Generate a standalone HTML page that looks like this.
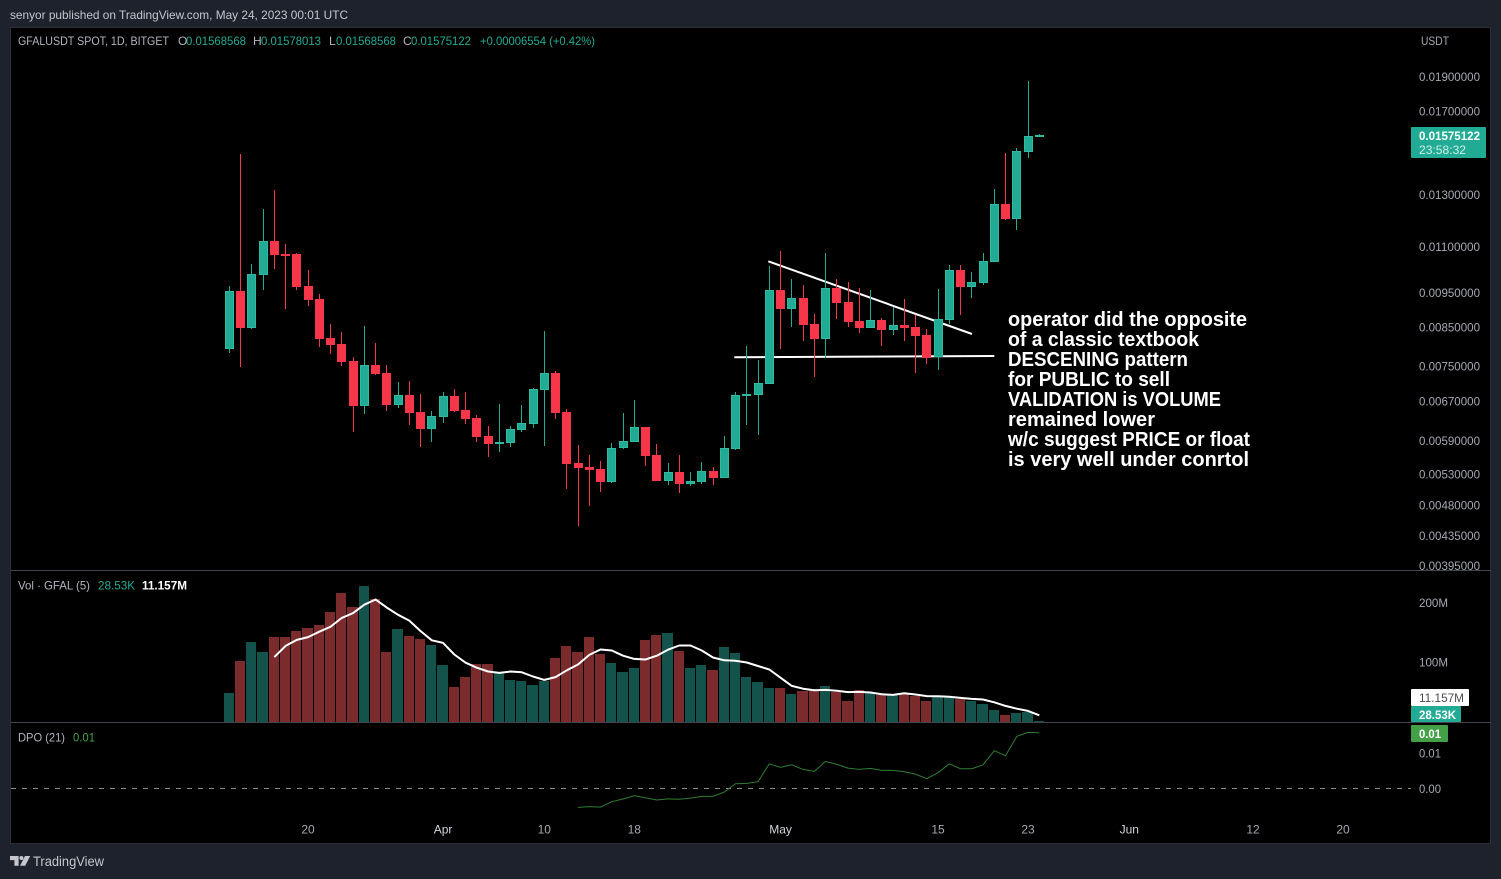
<!DOCTYPE html>
<html lang="en">
<head>
<meta charset="utf-8">
<title>GFALUSDT chart</title>
<style>
html,body{margin:0;padding:0;background:#1e222d;width:1501px;height:879px;overflow:hidden}
svg{display:block;font-family:"Liberation Sans",sans-serif}
</style>
</head>
<body>
<svg id="chart" width="1501" height="879" viewBox="0 0 1501 879" xmlns="http://www.w3.org/2000/svg">
  <defs><clipPath id="price-clip"><rect x="11" y="28" width="1480" height="542"/></clipPath></defs>
  <rect x="0" y="0" width="1501" height="879" fill="#1e222d"/>
  <text x="10" y="19" font-size="12" fill="#c4c6cc" textLength="338" lengthAdjust="spacingAndGlyphs">senyor published on TradingView.com, May 24, 2023 00:01 UTC</text>
  <rect x="10.5" y="27.5" width="1480" height="816" fill="#000" stroke="#2a2e39"/>
  <line x1="11" x2="1491" y1="570.5" y2="570.5" stroke="#41444e"/>
  <line x1="11" x2="1491" y1="722.5" y2="722.5" stroke="#41444e"/>
  <line x1="11" x2="1411" y1="788.5" y2="788.5" stroke="#8a8d96" stroke-dasharray="5 6"/>

  <g font-size="12">
    <text x="18" y="45" fill="#b2b5be" textLength="151" lengthAdjust="spacingAndGlyphs">GFALUSDT SPOT, 1D, BITGET</text>
    <text x="178" y="45" fill="#b2b5be">O</text>
    <text x="186" y="45" fill="#22ab94" textLength="60" lengthAdjust="spacingAndGlyphs">0.01568568</text>
    <text x="253" y="45" fill="#b2b5be">H</text>
    <text x="261" y="45" fill="#22ab94" textLength="60" lengthAdjust="spacingAndGlyphs">0.01578013</text>
    <text x="329" y="45" fill="#b2b5be">L</text>
    <text x="336" y="45" fill="#22ab94" textLength="60" lengthAdjust="spacingAndGlyphs">0.01568568</text>
    <text x="403" y="45" fill="#b2b5be">C</text>
    <text x="411" y="45" fill="#22ab94" textLength="60" lengthAdjust="spacingAndGlyphs">0.01575122</text>
    <text x="480" y="45" fill="#22ab94" textLength="115" lengthAdjust="spacingAndGlyphs">+0.00006554 (+0.42%)</text>
  </g>
  <text x="1421" y="45" font-size="12" fill="#a5a8b1" textLength="28" lengthAdjust="spacingAndGlyphs">USDT</text>

  <g id="trendlines" stroke="#fff" stroke-width="2" fill="none">
    <line x1="768.3" y1="261.3" x2="972" y2="334"/>
    <line x1="734.3" y1="357.3" x2="994.3" y2="356"/>
  </g>
  <g id="candles"></g>
  <g id="price-axis" clip-path="url(#price-clip)"></g>

  <g font-size="20" font-weight="bold" fill="#fff">
    <text x="1008" y="326" textLength="239" lengthAdjust="spacingAndGlyphs">operator did the opposite</text>
    <text x="1008" y="346" textLength="191" lengthAdjust="spacingAndGlyphs">of a classic textbook</text>
    <text x="1008" y="366" textLength="180" lengthAdjust="spacingAndGlyphs">DESCENING pattern</text>
    <text x="1008" y="386" textLength="162" lengthAdjust="spacingAndGlyphs">for PUBLIC to sell</text>
    <text x="1008" y="406" textLength="213" lengthAdjust="spacingAndGlyphs">VALIDATION is VOLUME</text>
    <text x="1008" y="426" textLength="147" lengthAdjust="spacingAndGlyphs">remained lower</text>
    <text x="1008" y="446" textLength="242" lengthAdjust="spacingAndGlyphs">w/c suggest PRICE or float</text>
    <text x="1008" y="466" textLength="241" lengthAdjust="spacingAndGlyphs">is very well under conrtol</text>
  </g>

  <g>
    <rect x="1411" y="127" width="75" height="31" rx="1" fill="#22ab94"/>
    <text x="1419" y="140" font-size="12" font-weight="bold" fill="#fff" textLength="61" lengthAdjust="spacingAndGlyphs">0.01575122</text>
    <text x="1419" y="154" font-size="12" fill="#cdeee8" textLength="47" lengthAdjust="spacingAndGlyphs">23:58:32</text>
  </g>

  <text x="18" y="589.5" font-size="12" fill="#b2b5be" textLength="72" lengthAdjust="spacingAndGlyphs">Vol · GFAL (5)</text>
  <text x="98" y="589.5" font-size="12" fill="#22ab94" textLength="37" lengthAdjust="spacingAndGlyphs">28.53K</text>
  <text x="142" y="589.5" font-size="12" font-weight="bold" fill="#fff" textLength="45" lengthAdjust="spacingAndGlyphs">11.157M</text>
  <g id="volume-pane"></g>
  <g id="volume-axis"></g>
  <rect x="1411" y="689" width="58" height="17" rx="1" fill="#fff"/>
  <text x="1419" y="702" font-size="12" fill="#4a4c52" textLength="45" lengthAdjust="spacingAndGlyphs">11.157M</text>
  <rect x="1411" y="706" width="50" height="16" rx="1" fill="#22ab94"/>
  <text x="1419" y="719" font-size="12" font-weight="bold" fill="#fff" textLength="37" lengthAdjust="spacingAndGlyphs">28.53K</text>

  <text x="18" y="741.5" font-size="12" fill="#b2b5be" textLength="47" lengthAdjust="spacingAndGlyphs">DPO (21)</text>
  <text x="73" y="741.5" font-size="12" fill="#43a047" textLength="22" lengthAdjust="spacingAndGlyphs">0.01</text>
  <g id="dpo-pane"></g>
  <g id="dpo-axis"></g>
  <rect x="1411" y="725" width="37" height="17" rx="1" fill="#43a047"/>
  <text x="1419" y="738" font-size="12" font-weight="bold" fill="#fff" textLength="22" lengthAdjust="spacingAndGlyphs">0.01</text>

  <g id="time-axis"></g>

  <g>
    <path fill="#c5c7cd" d="M10 856h8.6v9.7h-4.2v-5.6H10zM25 856h5.2l-5 9.7h-5.2z"/>
    <circle cx="21.4" cy="858" r="2" fill="#c5c7cd"/>
    <text x="33" y="866" font-size="13.5" fill="#c5c7cd" textLength="71" lengthAdjust="spacingAndGlyphs">TradingView</text>
  </g>
</svg>
<script>
const startDate = '2023-03-13';
const opens = [.007926,.009531,.008479,.010053,.011191,.010744,.010734,.009685,.009288,.008196,.00804,.007612,.0066,.007515,.007324,.006621,.006824,.006462,.00613,.006371,.006802,.006503,.006338,.005982,.005842,.00586,.00611,.006229,.006948,.007324,.006462,.005485,.005415,.00538,.00517,.005756,.005879,.006158,.005628,.005187,.005329,.005137,.00517,.005346,.005237,.005749,.006809,.006838,.007083,.00957,.009012,.009319,.008581,.008185,.009623,.009208,.008663,.008479,.008683,.008424,.008553,.00849,.008275,.00771,.008699,.010195,.009673,.009798,.010481,.012604,.012034,.014923,.01568568];
const highs = [.009695,.014814,.010395,.012414,.013195,.011095,.010779,.010195,.009449,.008573,.008363,.00771,.008518,.008065,.007522,.007115,.007138,.006846,.006488,.00689,.006957,.00689,.0064,.006178,.00663,.006184,.006615,.006979,.008389,.007378,.00653,.005817,.005633,.005525,.005855,.006447,.006721,.006163,.005836,.005485,.005633,.005329,.005508,.00542,.005988,.00689,.007995,.007643,.010338,.010848,.009914,.009726,.008861,.010779,.009914,.00982,.009632,.00957,.008739,.009071,.009297,.008832,.008443,.009601,.010371,.010371,.01014,.010779,.013238,.014862,.015087,.018728,.01578013];
const lows = [.007825,.007481,.008452,.009579,.010248,.009012,.009579,.0091,.007977,.0078,.007505,.006071,.006433,.007291,.006495,.006558,.006209,.005786,.005879,.006249,.006474,.006229,.005879,.005603,.005693,.005786,.006071,.00615,.005804,.00633,.00505,.004489,.004787,.005007,.005154,.00575,.005879,.005443,.005187,.005121,.004991,.005105,.005137,.005121,.005237,.00573,.006209,.006013,.007083,.007918,.008507,.008132,.007244,.007685,.008719,.008498,.008344,.008479,.007995,.008283,.008124,.007331,.007546,.007408,.008581,.008832,.009327,.009726,.010481,.011983,.011604,.014625,.01568568];
const closes = [.009531,.008479,.010066,.011191,.01072,.01072,.009673,.009276,.008185,.008029,.007602,.0066,.007515,.007314,.006621,.006824,.006453,.00613,.006379,.006802,.006495,.00633,.005975,.005842,.005868,.006118,.006237,.006957,.007324,.006453,.005478,.005408,.005373,.00517,.005756,.005887,.006158,.005621,.005187,.005329,.005137,.005177,.005346,.005237,.005756,.006824,.006853,.007092,.009561,.009012,.009319,.008562,.008185,.009623,.009188,.008644,.008479,.008683,.008424,.008553,.008479,.008264,.0077,.008711,.010195,.009673,.00981,.010495,.012604,.012034,.014942,.015681,.01575122];
const volumesM = [48.7,102.5,134.4,117.6,142.9,142.9,153,158,163,185,216.8,193,228.6,206.7,117.6,156.3,144.5,139.5,129.4,95.8,58.8,75.6,97.5,97.5,84,70.6,68.9,62.2,68.9,107.6,127.7,117.6,142.9,114.3,99.2,84,90.8,137.8,146.2,149.6,119.3,90.8,95.8,87.4,126,116,75.6,67.2,57.1,57.1,47.1,52.1,53.8,60.5,50.4,35.3,53.8,48.7,45.4,45.4,48.7,43.7,35.3,43.7,42,38.7,35.3,30.3,20.2,11.8,15.1,16.8,.03];
const volumeMaStartIndex = 4;
const volumeMaM = [109,127.9,138,142.7,151.8,160.2,175,183,197.1,205.8,192.3,180.2,170.5,152.7,137.3,132.9,113.4,99.6,91.2,84.8,82.5,84.8,83.5,76.4,70.7,75.4,86.9,96.6,112.7,121.8,120.1,111.4,106,105,111.4,121.5,128.5,128.5,120.1,108.4,103.7,103,100,94.2,88.2,74.4,60.6,55.9,53.2,53.9,52.6,50.2,50.6,49.5,46.5,45.5,48.2,46.2,43.5,43.2,42.5,40.5,38.8,37.8,33.1,27.1,22.3,18.6,11.2];
const dpoStartIndex = 31;
const dpoValues = [-.00268,-.00256,-.00263,-.00188,-.0015,-.00103,-.00131,-.00164,-.00148,-.00153,-.00136,-.00113,-.00113,-.00052,.00066,.0007,.00094,.00347,.00296,.00333,.00268,.00239,.0038,.00338,.00286,.00268,.00282,.00254,.00254,.00235,.00202,.00136,.00221,.00347,.00277,.00277,.00333,.00531,.0046,.00732,.00789,.00784];
const priceTicks = [.019,.017,.013,.011,.0095,.0085,.0075,.0067,.0059,.0053,.0048,.00435,.00395];
const volumeTicks = [200,100];
const volumeTickLabels = ['200M','100M'];
const dpoTicks = [.005,0];
const dpoTickLabels = ['0.01','0.00'];
const timeTickDates = ['2023-03-20','2023-04-01','2023-04-10','2023-04-18','2023-05-01','2023-05-15','2023-05-23','2023-06-01','2023-06-12','2023-06-20'];
const timeTickLabels = ['20','Apr','10','18','May','15','23','Jun','12','20'];

const SVGNS = 'http://www.w3.org/2000/svg';
const UP = '#22ab94', UPEDGE = '#2fbaa3', DOWN = '#f73749', VUP = '#14524c', VDOWN = '#7b2b2c';
function xAt(i){ return 229.3 + 11.25 * i; }
function xDate(d){ return xAt((Date.parse(d) - Date.parse(startDate)) / 86400000); }
function yPrice(p){ return 76.5 + 311.3 * Math.log(0.019 / p); }
function yVol(v){ return 722 - 0.595 * v; }
function yDpo(v){ return 788.4 - 7100 * v; }
function mk(parent, tag, attrs){
  const n = document.createElementNS(SVGNS, tag);
  for (const k in attrs) n.setAttribute(k, attrs[k]);
  parent.appendChild(n);
  return n;
}
const candleG = document.getElementById('candles');
opens.forEach(function(o, i){
  const c = closes[i], up = c >= o, col = up ? UP : DOWN;
  const xw = Math.floor(xAt(i));
  const wick = mk(candleG, 'rect', {x: xw, y: Math.round(yPrice(highs[i])), width: 1, height: Math.max(1, Math.round(yPrice(lows[i])) - Math.round(yPrice(highs[i]))), fill: col});
  
  
  const top = Math.round(yPrice(Math.max(o, c))), bot = Math.round(yPrice(Math.min(o, c)));
  const body = mk(candleG, 'rect', {x: xw - 3.5, y: top + 0.5, width: 8, height: Math.max(1, bot - top - 1) , fill: col, stroke: up ? UPEDGE : col, 'stroke-width': 1});
  
  
});
const priceAxis = document.getElementById('price-axis');
priceTicks.forEach(function(p){
  const t = mk(priceAxis, 'text', {x: 1419, y: yPrice(p) + 4.5, 'font-size': 12, fill: '#a5a8b1', textLength: 61, lengthAdjust: 'spacingAndGlyphs'});
  t.textContent = p.toFixed(8);
  
  
});
const volG = document.getElementById('volume-pane');
function barLeft(i){ return Math.round(xAt(i) - 5.7); }
volumesM.forEach(function(v, i){
  const y = Math.min(721, Math.round(yVol(v)));
  const b = mk(volG, 'rect', {x: barLeft(i), y: y, width: barLeft(i + 1) - barLeft(i) - 1, height: 722 - y, fill: closes[i] >= opens[i] ? VUP : VDOWN});
  
  
});
const maPts = volumeMaM.map(function(v, k){ return xAt(k + volumeMaStartIndex).toFixed(1) + ',' + yVol(v).toFixed(1); }).join(' ');
const maLine = mk(volG, 'polyline', {points: maPts, fill: 'none', stroke: '#fff', 'stroke-width': 2, 'stroke-linejoin': 'round'});


const volAxis = document.getElementById('volume-axis');
volumeTicks.forEach(function(v, k){
  const t = mk(volAxis, 'text', {x: 1419, y: yVol(v) + 4, 'font-size': 12, fill: '#a5a8b1', textLength: 29, lengthAdjust: 'spacingAndGlyphs'});
  t.textContent = volumeTickLabels[k];
  
  
});
const dpoG = document.getElementById('dpo-pane');
const dpoPts = dpoValues.map(function(v, k){ return xAt(k + dpoStartIndex).toFixed(1) + ',' + yDpo(v).toFixed(1); }).join(' ');
const dpoLine = mk(dpoG, 'polyline', {points: dpoPts, fill: 'none', stroke: '#2e7d32', 'stroke-width': 1});


const dpoAxis = document.getElementById('dpo-axis');
dpoTicks.forEach(function(v, k){
  const t = mk(dpoAxis, 'text', {x: 1419, y: yDpo(v) + 4.5, 'font-size': 12, fill: '#a5a8b1', textLength: 22, lengthAdjust: 'spacingAndGlyphs'});
  t.textContent = dpoTickLabels[k];
  
  
});
const timeAxis = document.getElementById('time-axis');
timeTickDates.forEach(function(d, k){
  const isMonth = /[A-Za-z]/.test(timeTickLabels[k]);
  const t = mk(timeAxis, 'text', {x: xDate(d), y: 833.5, 'font-size': 12, 'text-anchor': 'middle', fill: isMonth ? '#d1d4dc' : '#a5a8b1'});
  t.textContent = timeTickLabels[k];
  
  
});
</script>
</body>
</html>
